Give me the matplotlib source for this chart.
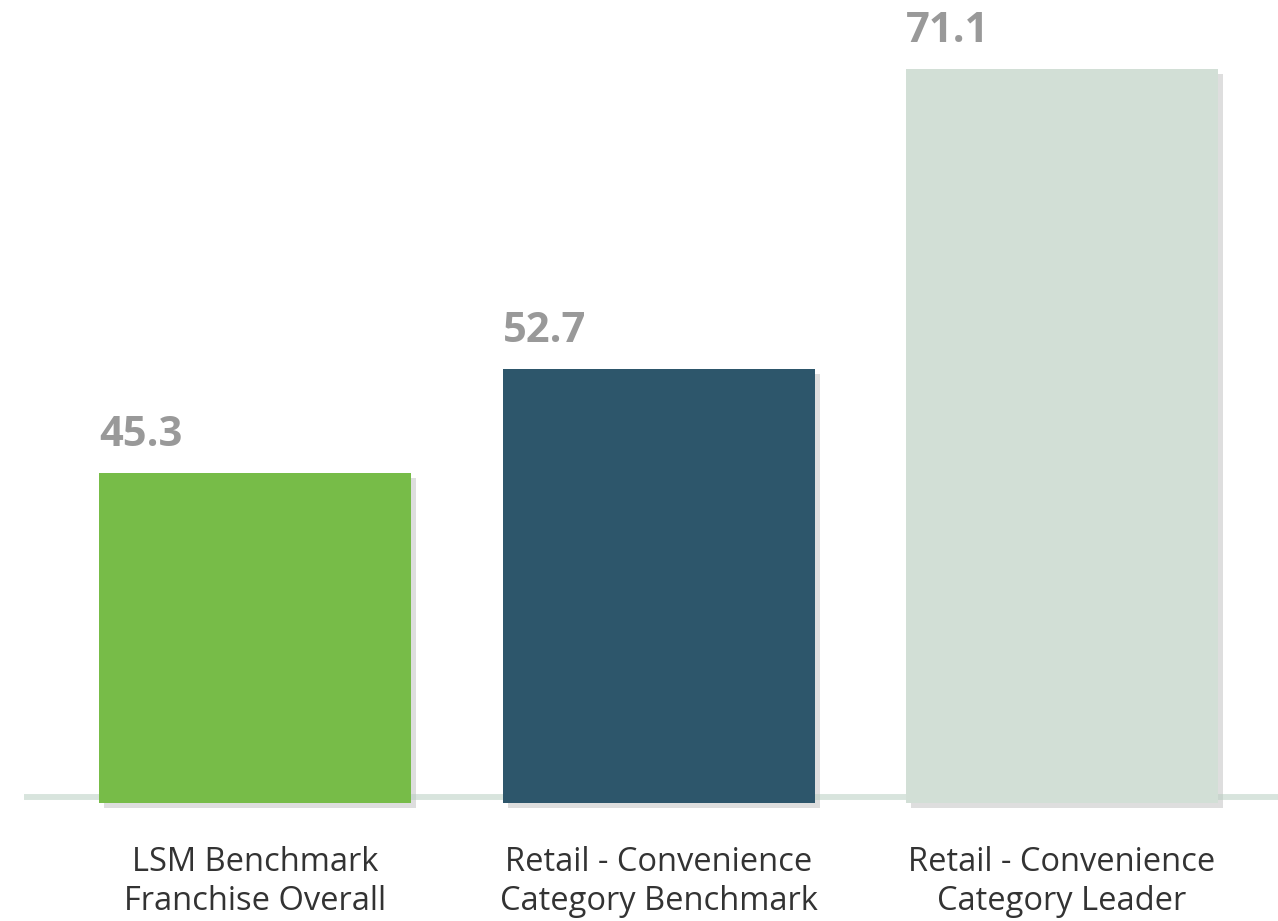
import numpy as np
import matplotlib
matplotlib.use('Agg')
import matplotlib.pyplot as plt
import matplotlib.transforms as mtransforms
from matplotlib.lines import Line2D

categories = ['LSM Benchmark\nFranchise Overall',
              'Retail - Convenience\nCategory Benchmark',
              'Retail - Convenience\nCategory Leader']
values = [45.3, 52.7, 71.1]
labels = ['45.3', '52.7', '71.1']
colors = ['#77bc48', '#2d566b', '#d2dfd6']

plt.rcParams['font.family'] = ['Open Sans', 'DejaVu Sans']

fig = plt.figure(figsize=(12.78, 9.21), dpi=100)
ax = fig.add_axes([0, 0.1281, 1, 0.8502])

# the value axis is stretched a little (power scale) so the tall bar stands out
p = 1.65
base = 11.0
ax.set_yscale('function', functions=(lambda v: np.sign(v) * np.abs(v) ** p,
                                     lambda v: np.sign(v) * np.abs(v) ** (1 / p)))
ax.set_ylim(base, 73.8)
ax.set_xlim(-0.632, 2.535)

x = np.arange(len(values))
w = 0.773
h = np.array(values) - base

# drop shadow, a few pixels right and down
shadow = mtransforms.offset_copy(ax.transData, fig=fig, x=5, y=-5, units='dots')
ax.bar(x, h, width=w, bottom=base, color='#dedede', transform=shadow,
       zorder=1, clip_on=False)

# baseline strip, under the bars but over the shadows
ax.add_line(Line2D([24 / 1278, 1], [1 - 797 / 921] * 2, transform=fig.transFigure,
                   color='#b9cfc2', alpha=0.55, lw=4.3, solid_capstyle='butt',
                   zorder=2, clip_on=False))

bars = ax.bar(x, h, width=w, bottom=base, color=colors, zorder=3)

for b, lab in zip(bars, labels):
    ax.annotate(lab, (b.get_x(), b.get_y() + b.get_height()), xytext=(0, 27),
                textcoords='offset pixels', ha='left', va='baseline',
                fontsize=30, fontweight='bold', color='#999999')

ax.set_xticks(x)
ax.set_xticklabels(categories, fontsize=23.5, color='#333333', linespacing=1.22)
ax.tick_params(axis='x', length=0, pad=31)
ax.set_yticks([])
for s in ax.spines.values():
    s.set_visible(False)
ax.patch.set_alpha(0)

fig.savefig('out.png', dpi=100)
